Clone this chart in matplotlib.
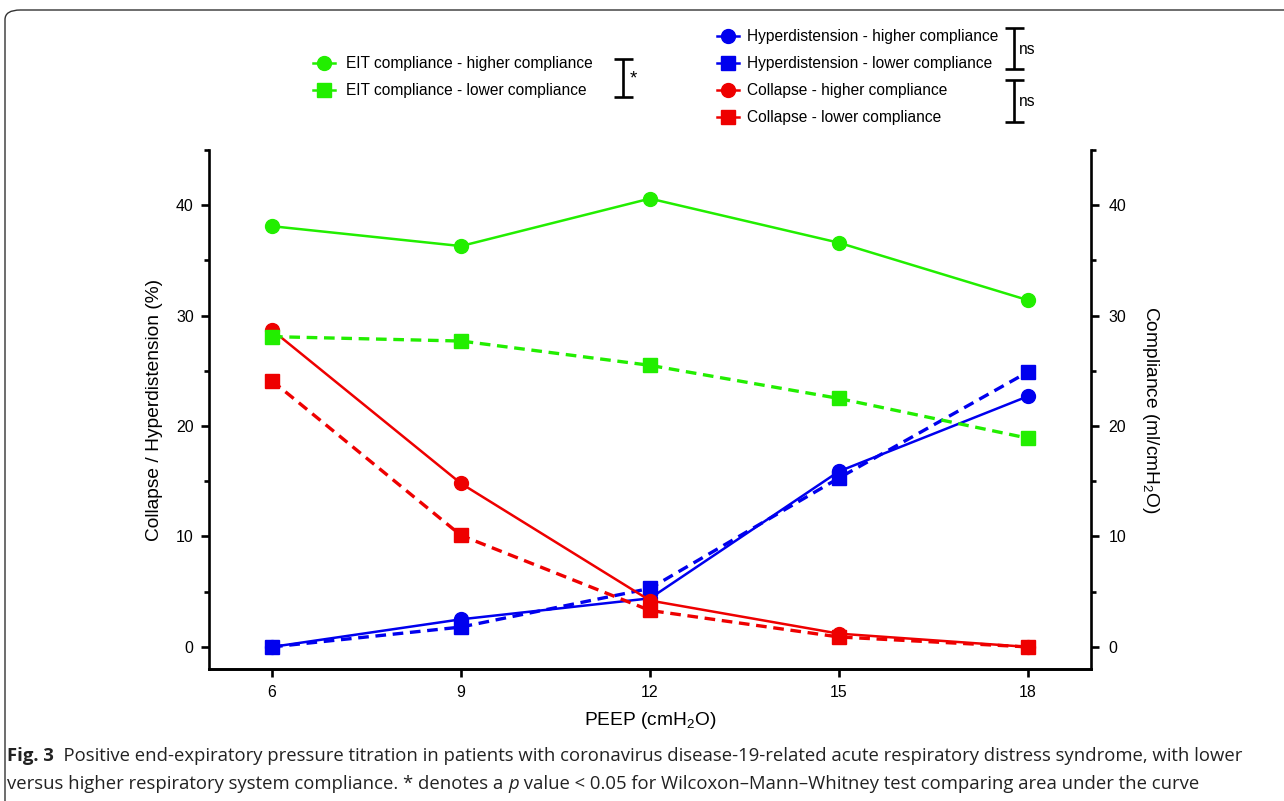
import matplotlib
matplotlib.use("Agg")
import matplotlib.pyplot as plt
from matplotlib.lines import Line2D
from matplotlib.patches import FancyBboxPatch

peep = [6, 9, 12, 15, 18]
eit_high = [38.1, 36.3, 40.6, 36.6, 31.4]
eit_low = [28.1, 27.7, 25.5, 22.5, 18.9]
col_high = [28.7, 14.8, 4.2, 1.2, 0.0]
col_low = [24.1, 10.1, 3.3, 0.9, 0.0]
hyp_high = [0.0, 2.5, 4.4, 15.9, 22.7]
hyp_low = [0.0, 1.8, 5.3, 15.3, 24.9]

labels = ["EIT compliance - higher compliance", "EIT compliance - lower compliance",
          "Hyperdistension - higher compliance", "Hyperdistension - lower compliance",
          "Collapse - higher compliance", "Collapse - lower compliance"]

GREEN = "#22ee00"
BLUE = "#0000ee"
RED = "#ee0000"

plt.rcParams['font.family'] = ['Liberation Sans', 'DejaVu Sans']
plt.rcParams['mathtext.default'] = 'regular'

cap_font = ['Open Sans', 'DejaVu Sans']

W, H = 1284, 801
fig = plt.figure(figsize=(W / 100, H / 100), dpi=100)
ax = fig.add_axes([209 / W, 1 - 669 / H, (1091 - 209) / W, (669 - 150) / H])
ax2 = ax.twinx()

lw = 1.8
ms = 10
dash = (0, (3.2, 2.0))

l_hh, = ax.plot(peep, hyp_high, color=BLUE, lw=lw, marker='o', ms=ms)
l_hl, = ax.plot(peep, hyp_low, color=BLUE, lw=lw + 0.6, ls=dash, marker='s', ms=ms)
l_ch, = ax.plot(peep, col_high, color=RED, lw=lw, marker='o', ms=ms)
l_cl, = ax.plot(peep, col_low, color=RED, lw=lw + 0.6, ls=dash, marker='s', ms=ms)
l_eh, = ax2.plot(peep, eit_high, color=GREEN, lw=lw, marker='o', ms=ms)
l_el, = ax2.plot(peep, eit_low, color=GREEN, lw=lw + 0.6, ls=dash, marker='s', ms=ms)

tfs = 11.4
for a, pad in ((ax, 5.5), (ax2, 7.0)):
    a.set_xlim(5, 19)
    a.set_ylim(-2.0, 45)
    a.set_yticks([0, 10, 20, 30, 40])
    a.set_yticks([5, 15, 25, 35, 45], minor=True)
    a.spines['top'].set_visible(False)
    for s in a.spines.values():
        s.set_linewidth(1.9)
    a.tick_params(which='major', length=5.5, width=1.9, labelsize=tfs, pad=pad)
    a.tick_params(which='minor', length=3.5, width=1.9)
ax.set_xticks(peep)
ax.set_xticklabels([str(p) for p in peep])
ax2.spines['left'].set_visible(False)
ax.spines['right'].set_visible(False)
ax.tick_params(axis='x', length=5.5, width=1.9, labelsize=tfs, pad=6)

ax.set_xlabel("PEEP (cmH$_2$O)", fontsize=13.8, labelpad=7)
ax.set_ylabel("Collapse / Hyperdistension (%)", fontsize=13.8, labelpad=9)
ax2.set_ylabel("Compliance (ml/cmH$_2$O)", fontsize=13.8, rotation=270, labelpad=25)

def legline(line):
    return Line2D([], [], color=line.get_color(), lw=lw, marker=line.get_marker(), ms=ms)

leg_kw = dict(frameon=False, fontsize=11.2, handlelength=1.4, handletextpad=0.7,
              labelspacing=0.78, borderpad=0, borderaxespad=0)
fig.legend([legline(l_eh), legline(l_el)], labels[0:2], loc='upper left',
           bbox_to_anchor=(313 / W, 1 - 56 / H), **leg_kw)
fig.legend([legline(l_hh), legline(l_hl), legline(l_ch), legline(l_cl)], labels[2:6],
           loc='upper left', bbox_to_anchor=(717 / W, 1 - 29 / H),
           **{**leg_kw, 'handletextpad': 0.55})

def bracket(x, y0, y1, text, tx, ty, fs):
    kw = dict(color='black', lw=1.9, transform=fig.transFigure, solid_capstyle='butt')
    fig.add_artist(Line2D([x / W, x / W], [1 - y0 / H, 1 - y1 / H], **kw))
    for y in (y0, y1):
        fig.add_artist(Line2D([(x - 9) / W, (x + 10) / W], [1 - y / H, 1 - y / H], **kw))
    fig.text(tx / W, 1 - ty / H, text, fontsize=fs, va='center', ha='left')

bracket(623, 59, 97, "*", 630, 79, 13.5)
bracket(1014, 28, 69, "ns", 1019, 50, 11.2)
bracket(1014, 80, 122, "ns", 1019, 102, 11.2)

# panel border
fig.add_artist(FancyBboxPatch((5 / W, -0.1), 1.1, 1 - 10 / H + 0.1,
                              boxstyle="round,pad=0,rounding_size=0.012",
                              transform=fig.transFigure, fill=False,
                              edgecolor='#333333', lw=1.0))

cfs = 13.3
ccol = '#222222'
t1 = fig.text(7 / W, 1 - 756 / H, "Fig. 3", fontsize=cfs, fontweight='bold',
              family=cap_font, va='center', color=ccol)
ax.annotate("  Positive end-expiratory pressure titration in patients with coronavirus disease-19-related acute "
            "respiratory distress syndrome, with lower", xy=(1, 0.5), xycoords=t1, va='center',
            fontsize=cfs, family=cap_font, annotation_clip=False, color=ccol)
t2 = fig.text(7 / W, 1 - 784 / H, "versus higher respiratory system compliance. * denotes a ",
              fontsize=cfs, family=cap_font, va='center', color=ccol)
t3 = ax.annotate("p", xy=(1, 0.5), xycoords=t2, va='center', fontsize=cfs, style='italic',
                 family=cap_font, annotation_clip=False, color=ccol)
ax.annotate(" value < 0.05 for Wilcoxon\u2013Mann\u2013Whitney test comparing area under the curve",
            xy=(1, 0.5), xycoords=t3, va='center', fontsize=cfs, family=cap_font,
            annotation_clip=False, color=ccol)

fig.savefig("out.png", dpi=100)
